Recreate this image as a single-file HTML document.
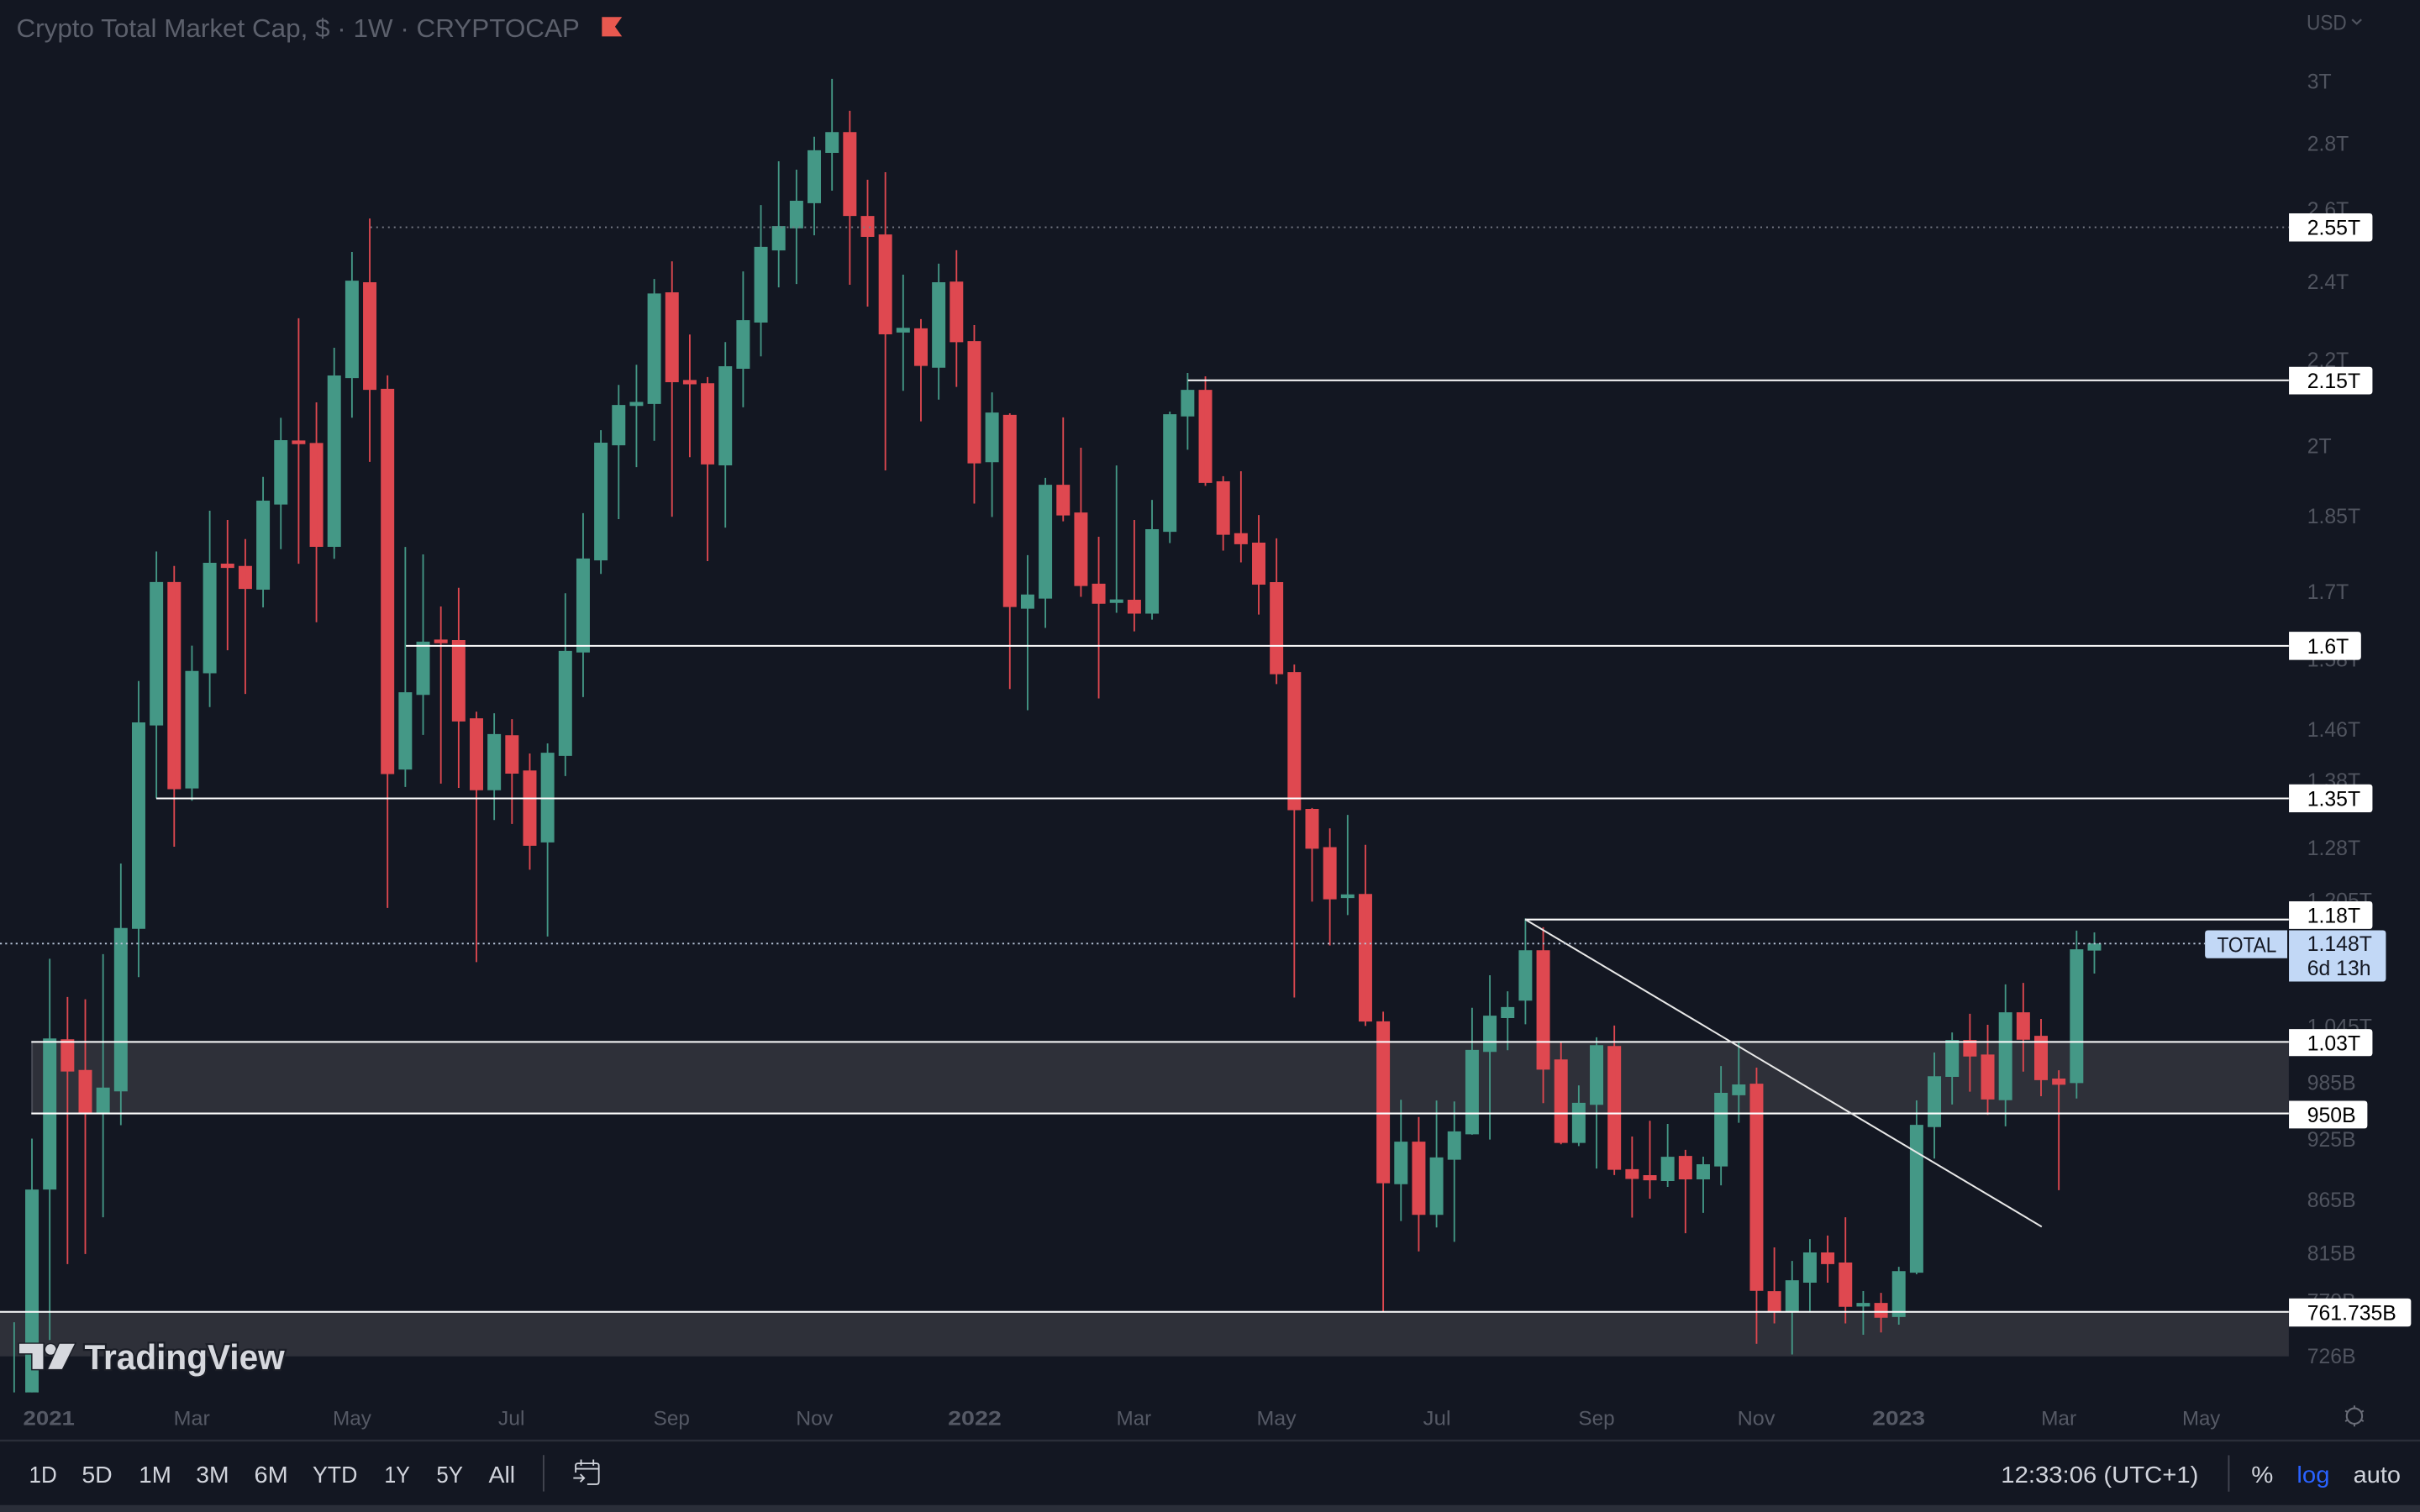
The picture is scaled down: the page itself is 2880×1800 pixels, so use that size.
<!DOCTYPE html>
<html><head><meta charset="utf-8">
<style>
html,body{margin:0;padding:0;background:#131722;width:2880px;height:1800px;overflow:hidden}
svg{display:block}
.g{fill:#449886;stroke:#449886;stroke-width:1}
.r{fill:#df4850;stroke:#df4850;stroke-width:1}
.ax{font-family:"Liberation Sans",sans-serif;font-size:13.5px;fill:#50545f}
.bx{font-family:"Liberation Sans",sans-serif;font-size:13.5px;fill:#000}
.tm{font-family:"Liberation Sans",sans-serif;font-size:13px;fill:#555965}
.tb{font-family:"Liberation Sans",sans-serif;font-size:15px;fill:#d1d4dc}
</style></head><body>
<svg width="2880" height="1800" viewBox="0 0 1568 980" xmlns="http://www.w3.org/2000/svg">
<defs><clipPath id="cc"><rect x="0" y="0" width="1483" height="902.5"/></clipPath></defs>
<rect x="0" y="0" width="1568" height="980" fill="#131722"/>

<!-- zones -->
<rect x="20.3" y="675.3" width="1462.7" height="46.4" fill="#2e3039"/>
<line x1="20.8" y1="675.3" x2="20.8" y2="721.7" stroke="#4a4d57" stroke-width="1"/>
<rect x="0" y="850.3" width="1483" height="28.8" fill="#2e3039"/>

<!-- candles -->
<g clip-path="url(#cc)">
<path class="g" d="M9.18 857V905"/>
<path class="g" d="M20.7 738V905M16.85 771.5h7.7V905h-7.7z"/>
<path class="g" d="M32.22 621.4V868.5M28.37 673.6h7.7V770.5h-7.7z"/>
<path class="r" d="M43.74 646.2V819.3M39.89 674.1h7.7V694h-7.7z"/>
<path class="r" d="M55.26 647.7V812.8M51.41 694h7.7V721.3h-7.7z"/>
<path class="g" d="M66.78 618.4V789M62.93 705.4h7.7V720.8h-7.7z"/>
<path class="g" d="M78.3 559.7V729.3M74.45 602h7.7V706.9h-7.7z"/>
<path class="g" d="M89.82 441.4V633.3M85.97 468.7h7.7V601.5h-7.7z"/>
<path class="g" d="M101.34 357.4V517.5M97.49 377.7h7.7V469.7h-7.7z"/>
<path class="r" d="M112.86 366.8V548.8M109.01 377.7h7.7V511h-7.7z"/>
<path class="g" d="M124.38 418.5V519M120.53 435.4h7.7V510.5h-7.7z"/>
<path class="g" d="M135.9 331V458.3M132.05 365.3h7.7V435.9h-7.7z"/>
<path class="r" d="M147.42 337V421.5M143.57 365.8h7.7V367.6h-7.7z"/>
<path class="r" d="M158.94 349.4V449.8M155.09 367.3h7.7V381.2h-7.7z"/>
<path class="g" d="M170.46 309.1V393.7M166.61 325h7.7V381.7h-7.7z"/>
<path class="g" d="M181.98 270.8V355.9M178.13 285.8h7.7V326.5h-7.7z"/>
<path class="r" d="M193.5 206.3V365.4M189.65 286h7.7V287.4h-7.7z"/>
<path class="r" d="M205.02 260.8V403.3M201.17 287.6h7.7V353.9h-7.7z"/>
<path class="g" d="M216.54 225.4V362.2M212.69 243.9h7.7V353.9h-7.7z"/>
<path class="g" d="M228.06 163.3V270.7M224.21 182.4h7.7V244.6h-7.7z"/>
<path class="r" d="M239.58 141.6V299.4M235.73 183.4h7.7V252.2h-7.7z"/>
<path class="r" d="M251.1 243.3V588.5M247.25 252.5h7.7V501.2h-7.7z"/>
<path class="g" d="M262.62 354.5V510.1M258.77 449.2h7.7V498.3h-7.7z"/>
<path class="g" d="M274.14 359.3V476.3M270.29 416.4h7.7V449.9h-7.7z"/>
<path class="r" d="M285.66 393.1V507.9M281.81 415h7.7V416.4h-7.7z"/>
<path class="r" d="M297.18 381V510.7M293.33 415.4h7.7V467.1h-7.7z"/>
<path class="r" d="M308.7 461.3V623.6M304.85 466.1h7.7V511.7h-7.7z"/>
<path class="g" d="M320.22 462.3V531.5M316.37 476.3h7.7V511.7h-7.7z"/>
<path class="r" d="M331.74 466.1V534M327.89 477h7.7V500.9h-7.7z"/>
<path class="r" d="M343.26 488.4V563.7M339.41 499.9h7.7V547.7h-7.7z"/>
<path class="g" d="M354.78 481.8V607M350.93 488.4h7.7V545.5h-7.7z"/>
<path class="g" d="M366.3 384.5V503M362.45 422.4h7.7V489.4h-7.7z"/>
<path class="g" d="M377.82 332.6V451.8M373.97 362.5h7.7V422.4h-7.7z"/>
<path class="g" d="M389.34 278.8V372M385.49 287.4h7.7V362.7h-7.7z"/>
<path class="g" d="M400.86 249.5V336.5M397.01 263h7.7V288.1h-7.7z"/>
<path class="g" d="M412.38 236.4V302.8M408.53 261h7.7V262.6h-7.7z"/>
<path class="g" d="M423.9 180.8V285.7M420.05 190.7h7.7V261.3h-7.7z"/>
<path class="r" d="M435.42 169.4V334.9M431.57 190h7.7V247.2h-7.7z"/>
<path class="r" d="M446.94 216.8V296.3M443.09 246.8h7.7V248.6h-7.7z"/>
<path class="r" d="M458.46 244.4V363.7M454.61 248.9h7.7V300.5h-7.7z"/>
<path class="g" d="M469.98 221.7V342M466.13 237.9h7.7V301.1h-7.7z"/>
<path class="g" d="M481.5 175.9V264M477.65 208h7.7V238.5h-7.7z"/>
<path class="g" d="M493.02 132.9V231M489.17 160.5h7.7V208.6h-7.7z"/>
<path class="g" d="M504.54 104.5V186.3M500.69 147h7.7V161.8h-7.7z"/>
<path class="g" d="M516.06 110V184.1M512.21 130.6h7.7V147.5h-7.7z"/>
<path class="g" d="M527.58 88.6V152.5M523.73 97.9h7.7V131.2h-7.7z"/>
<path class="g" d="M539.1 51.1V123.6M535.25 86.1h7.7V98.6h-7.7z"/>
<path class="r" d="M550.62 71.8V184.6M546.77 86.1h7.7V139.5h-7.7z"/>
<path class="r" d="M562.14 116.5V198.7M558.29 140.5h7.7V153h-7.7z"/>
<path class="r" d="M573.66 111.6V304.9M569.81 152.5h7.7V216.2h-7.7z"/>
<path class="g" d="M585.18 178V253.3M581.33 213h7.7V215h-7.7z"/>
<path class="r" d="M596.7 206.8V273.1M592.85 213.3h7.7V236.7h-7.7z"/>
<path class="g" d="M608.22 170.9V259M604.37 183.4h7.7V237.8h-7.7z"/>
<path class="r" d="M619.74 162.2V250.8M615.89 183h7.7V221.3h-7.7z"/>
<path class="r" d="M631.26 210.7V326.4M627.41 221.6h7.7V299.8h-7.7z"/>
<path class="g" d="M642.78 254.3V335.1M638.93 267.9h7.7V299.1h-7.7z"/>
<path class="r" d="M654.3 267.9V446.6M650.45 269.4h7.7V392.9h-7.7z"/>
<path class="g" d="M665.82 359.8V460.3M661.97 385.8h7.7V394h-7.7z"/>
<path class="g" d="M677.34 309.7V407M673.49 314.7h7.7V387.5h-7.7z"/>
<path class="r" d="M688.86 270.5V337.9M685.01 314.7h7.7V333.6h-7.7z"/>
<path class="r" d="M700.38 290.2V386.8M696.53 332.7h7.7V379.3h-7.7z"/>
<path class="r" d="M711.9 347.9V452.7M708.05 378.8h7.7V390.8h-7.7z"/>
<path class="g" d="M723.42 301.7V397.2M719.57 389h7.7V390.3h-7.7z"/>
<path class="r" d="M734.94 337V409.2M731.09 389.2h7.7V397.2h-7.7z"/>
<path class="g" d="M746.46 324V401.6M742.61 343.5h7.7V397.2h-7.7z"/>
<path class="g" d="M757.98 266.8V352M754.13 269h7.7V344.2h-7.7z"/>
<path class="g" d="M769.5 241.7V291.5M765.65 253.2h7.7V269.4h-7.7z"/>
<path class="r" d="M781.02 243.9V314.9M777.17 253.2h7.7V312.5h-7.7z"/>
<path class="r" d="M792.54 308.6V356.9M788.69 312.5h7.7V346.1h-7.7z"/>
<path class="r" d="M804.06 305.4V364.5M800.21 346.1h7.7V352.2h-7.7z"/>
<path class="r" d="M815.58 333.8V398.3M811.73 352.2h7.7V378.4h-7.7z"/>
<path class="r" d="M827.1 348.9V443.4M823.25 377.8h7.7V436.5h-7.7z"/>
<path class="r" d="M838.62 430.7V646.5M834.77 436.1h7.7V524.6h-7.7z"/>
<path class="r" d="M850.14 523.7V584.4M846.29 524.8h7.7V549.6h-7.7z"/>
<path class="r" d="M861.66 536.9V612.8M857.81 549.6h7.7V582.4h-7.7z"/>
<path class="g" d="M873.18 528.2V593.1M869.33 580.2h7.7V581.6h-7.7z"/>
<path class="r" d="M884.7 547.6V665M880.85 579.9h7.7V661.6h-7.7z"/>
<path class="r" d="M896.22 655.7V850.1M892.37 662.5h7.7V766.4h-7.7z"/>
<path class="g" d="M907.74 712.8V791.4M903.89 740.5h7.7V767h-7.7z"/>
<path class="r" d="M919.26 724V811.1M915.41 740.5h7.7V786.9h-7.7z"/>
<path class="g" d="M930.78 713.3V795.6M926.93 750.7h7.7V786.9h-7.7z"/>
<path class="g" d="M942.3 713.9V804.9M938.45 733.8h7.7V751.2h-7.7z"/>
<path class="g" d="M953.82 653.2V735.5M949.97 681h7.7V734.7h-7.7z"/>
<path class="g" d="M965.34 632.1V738.6M961.49 658.8h7.7V681.3h-7.7z"/>
<path class="g" d="M976.86 642.5V680.7M973.01 653.2h7.7V659.4h-7.7z"/>
<path class="g" d="M988.38 595.3V663.9M984.53 616.4h7.7V648.1h-7.7z"/>
<path class="r" d="M999.9 601V715M996.05 616.4h7.7V692.8h-7.7z"/>
<path class="r" d="M1011.42 675.7V741.7M1007.57 687.2h7.7V740.3h-7.7z"/>
<path class="g" d="M1022.94 703.5V742.8M1019.09 715.3h7.7V740.3h-7.7z"/>
<path class="g" d="M1034.46 672.3V757.4M1030.61 677.9h7.7V715.6h-7.7z"/>
<path class="r" d="M1045.98 664.7V761.6M1042.13 678.5h7.7V757.7h-7.7z"/>
<path class="r" d="M1057.5 736.6V789.2M1053.65 758.3h7.7V763.6h-7.7z"/>
<path class="r" d="M1069.02 726.4V776.9M1065.17 762.2h7.7V764.5h-7.7z"/>
<path class="g" d="M1080.54 728.5V769.3M1076.69 750.3h7.7V765h-7.7z"/>
<path class="r" d="M1092.06 745.3V799.3M1088.21 749.7h7.7V763.9h-7.7z"/>
<path class="g" d="M1103.58 749.7V786.1M1099.73 755.1h7.7V763.9h-7.7z"/>
<path class="g" d="M1115.1 691V768.3M1111.25 708.8h7.7V755.5h-7.7z"/>
<path class="g" d="M1126.62 675.7V727.7M1122.77 703.4h7.7V709.4h-7.7z"/>
<path class="r" d="M1138.14 692V871M1134.29 702.9h7.7V836.2h-7.7z"/>
<path class="r" d="M1149.66 808.5V857.8M1145.81 837.4h7.7V849.8h-7.7z"/>
<path class="g" d="M1161.18 817.3V877.9M1157.33 830.3h7.7V849.8h-7.7z"/>
<path class="g" d="M1172.7 803.1V849.8M1168.85 812.3h7.7V830.9h-7.7z"/>
<path class="r" d="M1184.22 800.8V831.4M1180.37 812.3h7.7V818.8h-7.7z"/>
<path class="r" d="M1195.74 789V857.8M1191.89 818.8h7.7V846.5h-7.7z"/>
<path class="g" d="M1207.26 836.8V865.1M1203.41 845h7.7V846.3h-7.7z"/>
<path class="r" d="M1218.78 838V863.6M1214.93 845h7.7V853.6h-7.7z"/>
<path class="g" d="M1230.3 821.1V858.6M1226.45 824.4h7.7V853.1h-7.7z"/>
<path class="g" d="M1241.82 713.2V825.9M1237.97 729.6h7.7V824.4h-7.7z"/>
<path class="g" d="M1253.34 682.2V750.9M1249.49 698.1h7.7V730h-7.7z"/>
<path class="g" d="M1264.86 669.2V715.9M1261.01 674.6h7.7V697.5h-7.7z"/>
<path class="r" d="M1276.38 657.1V707.6M1272.53 674.6h7.7V684.3h-7.7z"/>
<path class="r" d="M1287.9 664.2V722.6M1284.05 684h7.7V712.1h-7.7z"/>
<path class="g" d="M1299.42 638V730M1295.57 656.6h7.7V712.6h-7.7z"/>
<path class="r" d="M1310.94 637.1V694.6M1307.09 656.6h7.7V673.4h-7.7z"/>
<path class="r" d="M1322.46 660.4V710.5M1318.61 671.9h7.7V699.6h-7.7z"/>
<path class="r" d="M1333.98 693.7V771.4M1330.13 699.6h7.7V702.6h-7.7z"/>
<path class="g" d="M1345.5 603.2V712M1341.65 615.8h7.7V701.5h-7.7z"/>
<path class="g" d="M1357.02 604.3V631M1353.17 612h7.7V615.6h-7.7z"/>
</g>

<!-- horizontal levels -->
<g stroke="#ffffff" stroke-width="1.1" fill="none">
<line x1="769.7" y1="246.5" x2="1483" y2="246.5"/>
<line x1="263" y1="418.6" x2="1483" y2="418.6"/>
<line x1="101.3" y1="517.5" x2="1483" y2="517.5"/>
<line x1="988.2" y1="596" x2="1483" y2="596"/>
<line x1="20.3" y1="675.3" x2="1483" y2="675.3"/>
<line x1="20.3" y1="721.7" x2="1483" y2="721.7"/>
<line x1="0" y1="850.3" x2="1483" y2="850.3"/>
<line x1="988.2" y1="595.9" x2="1322.9" y2="795.1" stroke="#e8e8e8"/>
</g>
<line x1="240" y1="147.3" x2="1483" y2="147.3" stroke="#787b86" stroke-width="1" stroke-dasharray="1.1 2.7"/>
<line x1="0" y1="611.6" x2="1428.7" y2="611.6" stroke="#b9c6da" stroke-width="1" stroke-dasharray="1.2 2.2"/>

<!-- title -->
<text x="10.6" y="24" font-family="Liberation Sans, sans-serif" font-size="16.4" fill="#5c606c" textLength="365" lengthAdjust="spacingAndGlyphs">Crypto Total Market Cap, $ · 1W · CRYPTOCAP</text>
<path d="M390 11H403L398.5 17.3L403 23.6H390Z" fill="#e8584f"/>

<!-- price axis -->
<text class="ax" x="1494.5" y="19.2" textLength="26" lengthAdjust="spacingAndGlyphs">USD</text>
<path d="M1524 12.6L1527 15.4L1530 12.6" stroke="#50545f" stroke-width="1.2" fill="none"/>
<text class="ax" x="1494.9" y="57.4">3T</text>
<text class="ax" x="1494.9" y="97.8">2.8T</text>
<text class="ax" x="1494.9" y="140.4">2.6T</text>
<text class="ax" x="1494.9" y="187.4">2.4T</text>
<text class="ax" x="1494.9" y="237.9">2.2T</text>
<text class="ax" x="1494.9" y="293.8">2T</text>
<text class="ax" x="1494.9" y="339.3">1.85T</text>
<text class="ax" x="1494.9" y="388.3">1.7T</text>
<text class="ax" x="1494.9" y="432">1.58T</text>
<text class="ax" x="1494.9" y="477.4">1.46T</text>
<text class="ax" x="1494.9" y="510.7">1.38T</text>
<text class="ax" x="1494.9" y="554.2">1.28T</text>
<text class="ax" x="1494.9" y="588.3">1.205T</text>
<text class="ax" x="1494.9" y="669.9">1.045T</text>
<text class="ax" x="1494.9" y="706.5">985B</text>
<text class="ax" x="1494.9" y="743.3">925B</text>
<text class="ax" x="1494.9" y="782.3">865B</text>
<text class="ax" x="1494.9" y="817">815B</text>
<text class="ax" x="1494.9" y="848.1">770B</text>
<text class="ax" x="1494.9" y="883.5">726B</text>

<!-- label boxes -->
<g fill="#ffffff">
<path d="M1483.1 138.3H1535.2Q1537.2 138.3 1537.2 140.3V154.5Q1537.2 156.5 1535.2 156.5H1483.1Z"/>
<path d="M1483.1 237.8H1535.2Q1537.2 237.8 1537.2 239.8V253.6Q1537.2 255.6 1535.2 255.6H1483.1Z"/>
<path d="M1483.1 409.5H1527.8Q1529.8 409.5 1529.8 411.5V425.7Q1529.8 427.7 1527.8 427.7H1483.1Z"/>
<path d="M1483.1 508.4H1535.2Q1537.2 508.4 1537.2 510.4V524.5Q1537.2 526.5 1535.2 526.5H1483.1Z"/>
<path d="M1483.1 584.2H1535.2Q1537.2 584.2 1537.2 586.2V600.1Q1537.2 602.1 1535.2 602.1H1483.1Z"/>
<path d="M1483.1 667H1535.2Q1537.2 667 1537.2 669V682.5Q1537.2 684.5 1535.2 684.5H1483.1Z"/>
<path d="M1483.1 713.5H1531.9Q1533.9 713.5 1533.9 715.5V729.4Q1533.9 731.4 1531.9 731.4H1483.1Z"/>
<path d="M1483.1 841.6H1560.2Q1562.2 841.6 1562.2 843.6V857.8Q1562.2 859.8 1560.2 859.8H1483.1Z"/>
</g>
<path d="M1430.7 603H1482V621.1H1430.7Q1428.7 621.1 1428.7 619.1V605Q1428.7 603 1430.7 603Z" fill="#c2d8f6"/>
<path d="M1483.1 603H1543.9Q1545.9 603 1545.9 605V634.2Q1545.9 636.2 1543.9 636.2H1483.1Z" fill="#c2d8f6"/>
<text class="bx" x="1494.9" y="152.3">2.55T</text>
<text class="bx" x="1494.9" y="251.6">2.15T</text>
<text class="bx" x="1494.9" y="423.6">1.6T</text>
<text class="bx" x="1494.9" y="522.5">1.35T</text>
<text class="bx" x="1494.9" y="598.1">1.18T</text>
<text class="bx" x="1436.5" y="617" style="fill:#131722" textLength="38.6" lengthAdjust="spacingAndGlyphs">TOTAL</text>
<text class="bx" x="1494.9" y="616.4" style="fill:#131722">1.148T</text>
<text class="bx" x="1494.9" y="632" style="fill:#131722">6d 13h</text>
<text class="bx" x="1494.9" y="680.7">1.03T</text>
<text class="bx" x="1494.9" y="727.4">950B</text>
<text class="bx" x="1494.9" y="855.7">761.735B</text>

<!-- TradingView watermark -->
<g fill="#d6d8de" stroke="#1b1e27" stroke-width="1.6" paint-order="stroke">
<path d="M12.5 871H28V887.4H21V877.2H12.5Z"/>
<circle cx="32.8" cy="874.6" r="3.4"/>
<path d="M38.6 871H48.4L40.2 887.4H31.2Z"/>
<text x="54.7" y="887.4" font-family="Liberation Sans, sans-serif" font-weight="bold" font-size="22.5" textLength="129.7" lengthAdjust="spacingAndGlyphs" stroke-width="2.4">TradingView</text>
</g>

<!-- time axis -->
<text class="tm" x="15" y="923.7" font-weight="bold" textLength="33.4" lengthAdjust="spacingAndGlyphs">2021</text>
<text class="tm" x="112.5" y="923.7" textLength="23.5" lengthAdjust="spacingAndGlyphs">Mar</text>
<text class="tm" x="215.6" y="923.7" textLength="25" lengthAdjust="spacingAndGlyphs">May</text>
<text class="tm" x="322.8" y="923.7" textLength="17.2" lengthAdjust="spacingAndGlyphs">Jul</text>
<text class="tm" x="423.4" y="923.7" textLength="23.5" lengthAdjust="spacingAndGlyphs">Sep</text>
<text class="tm" x="515.7" y="923.7" textLength="24" lengthAdjust="spacingAndGlyphs">Nov</text>
<text class="tm" x="614.2" y="923.7" font-weight="bold" textLength="34.7" lengthAdjust="spacingAndGlyphs">2022</text>
<text class="tm" x="723.4" y="923.7" textLength="22.6" lengthAdjust="spacingAndGlyphs">Mar</text>
<text class="tm" x="814.2" y="923.7" textLength="25.7" lengthAdjust="spacingAndGlyphs">May</text>
<text class="tm" x="922" y="923.7" textLength="18.1" lengthAdjust="spacingAndGlyphs">Jul</text>
<text class="tm" x="1022.7" y="923.7" textLength="23.5" lengthAdjust="spacingAndGlyphs">Sep</text>
<text class="tm" x="1125.7" y="923.7" textLength="24.4" lengthAdjust="spacingAndGlyphs">Nov</text>
<text class="tm" x="1213.1" y="923.7" font-weight="bold" textLength="34.3" lengthAdjust="spacingAndGlyphs">2023</text>
<text class="tm" x="1322.5" y="923.7" textLength="22.9" lengthAdjust="spacingAndGlyphs">Mar</text>
<text class="tm" x="1413.9" y="923.7" textLength="24.7" lengthAdjust="spacingAndGlyphs">May</text>
<g stroke="#6a6d78" stroke-width="1.1" fill="none">
<circle cx="1525.5" cy="917.8" r="5"/>
<path d="M1525.5 911V912.8M1525.5 922.8V924.6M1519.6 914.4L1521 915.2M1530 920.4L1531.4 921.2M1519.6 921.2L1521 920.4M1530 915.2L1531.4 914.4"/>
</g>

<!-- toolbar -->
<line x1="0" y1="933.7" x2="1568" y2="933.7" stroke="#2a2e39" stroke-width="1.3"/>
<text class="tb" x="18.8" y="961" textLength="18.1" lengthAdjust="spacingAndGlyphs">1D</text>
<text class="tb" x="53" y="961" textLength="19.8" lengthAdjust="spacingAndGlyphs">5D</text>
<text class="tb" x="90" y="961" textLength="21" lengthAdjust="spacingAndGlyphs">1M</text>
<text class="tb" x="127" y="961" textLength="21.4" lengthAdjust="spacingAndGlyphs">3M</text>
<text class="tb" x="164.7" y="961" textLength="21.9" lengthAdjust="spacingAndGlyphs">6M</text>
<text class="tb" x="202.5" y="961" textLength="29.1" lengthAdjust="spacingAndGlyphs">YTD</text>
<text class="tb" x="249" y="961" textLength="16.6" lengthAdjust="spacingAndGlyphs">1Y</text>
<text class="tb" x="282.8" y="961" textLength="17.2" lengthAdjust="spacingAndGlyphs">5Y</text>
<text class="tb" x="316.6" y="961" textLength="17.2" lengthAdjust="spacingAndGlyphs">All</text>
<line x1="352.2" y1="943.1" x2="352.2" y2="966.7" stroke="#434651" stroke-width="1"/>
<g stroke="#d1d4dc" stroke-width="1" fill="none">
<path d="M373 954.5V950Q373 948.5 374.5 948.5H386.5Q388 948.5 388 950V960.5Q388 962 386.5 962H380.5"/>
<path d="M373 952H388M376.5 946V950M384.5 946V950"/>
<path d="M371.5 958H378.5M376 955.5L378.5 958L376 960.5"/>
</g>
<text class="tb" x="1296.5" y="961" textLength="128" lengthAdjust="spacingAndGlyphs">12:33:06 (UTC+1)</text>
<line x1="1444.1" y1="943.2" x2="1444.1" y2="966.8" stroke="#434651" stroke-width="1"/>
<text class="tb" x="1458.7" y="961" textLength="14.2" lengthAdjust="spacingAndGlyphs">%</text>
<text class="tb" x="1488.2" y="961" style="fill:#2962ff" textLength="21.3" lengthAdjust="spacingAndGlyphs">log</text>
<text class="tb" x="1524.8" y="961" textLength="30.7" lengthAdjust="spacingAndGlyphs">auto</text>
<rect x="0" y="975.5" width="1568" height="4.5" fill="#2a2e39"/>
</svg>
</body></html>
